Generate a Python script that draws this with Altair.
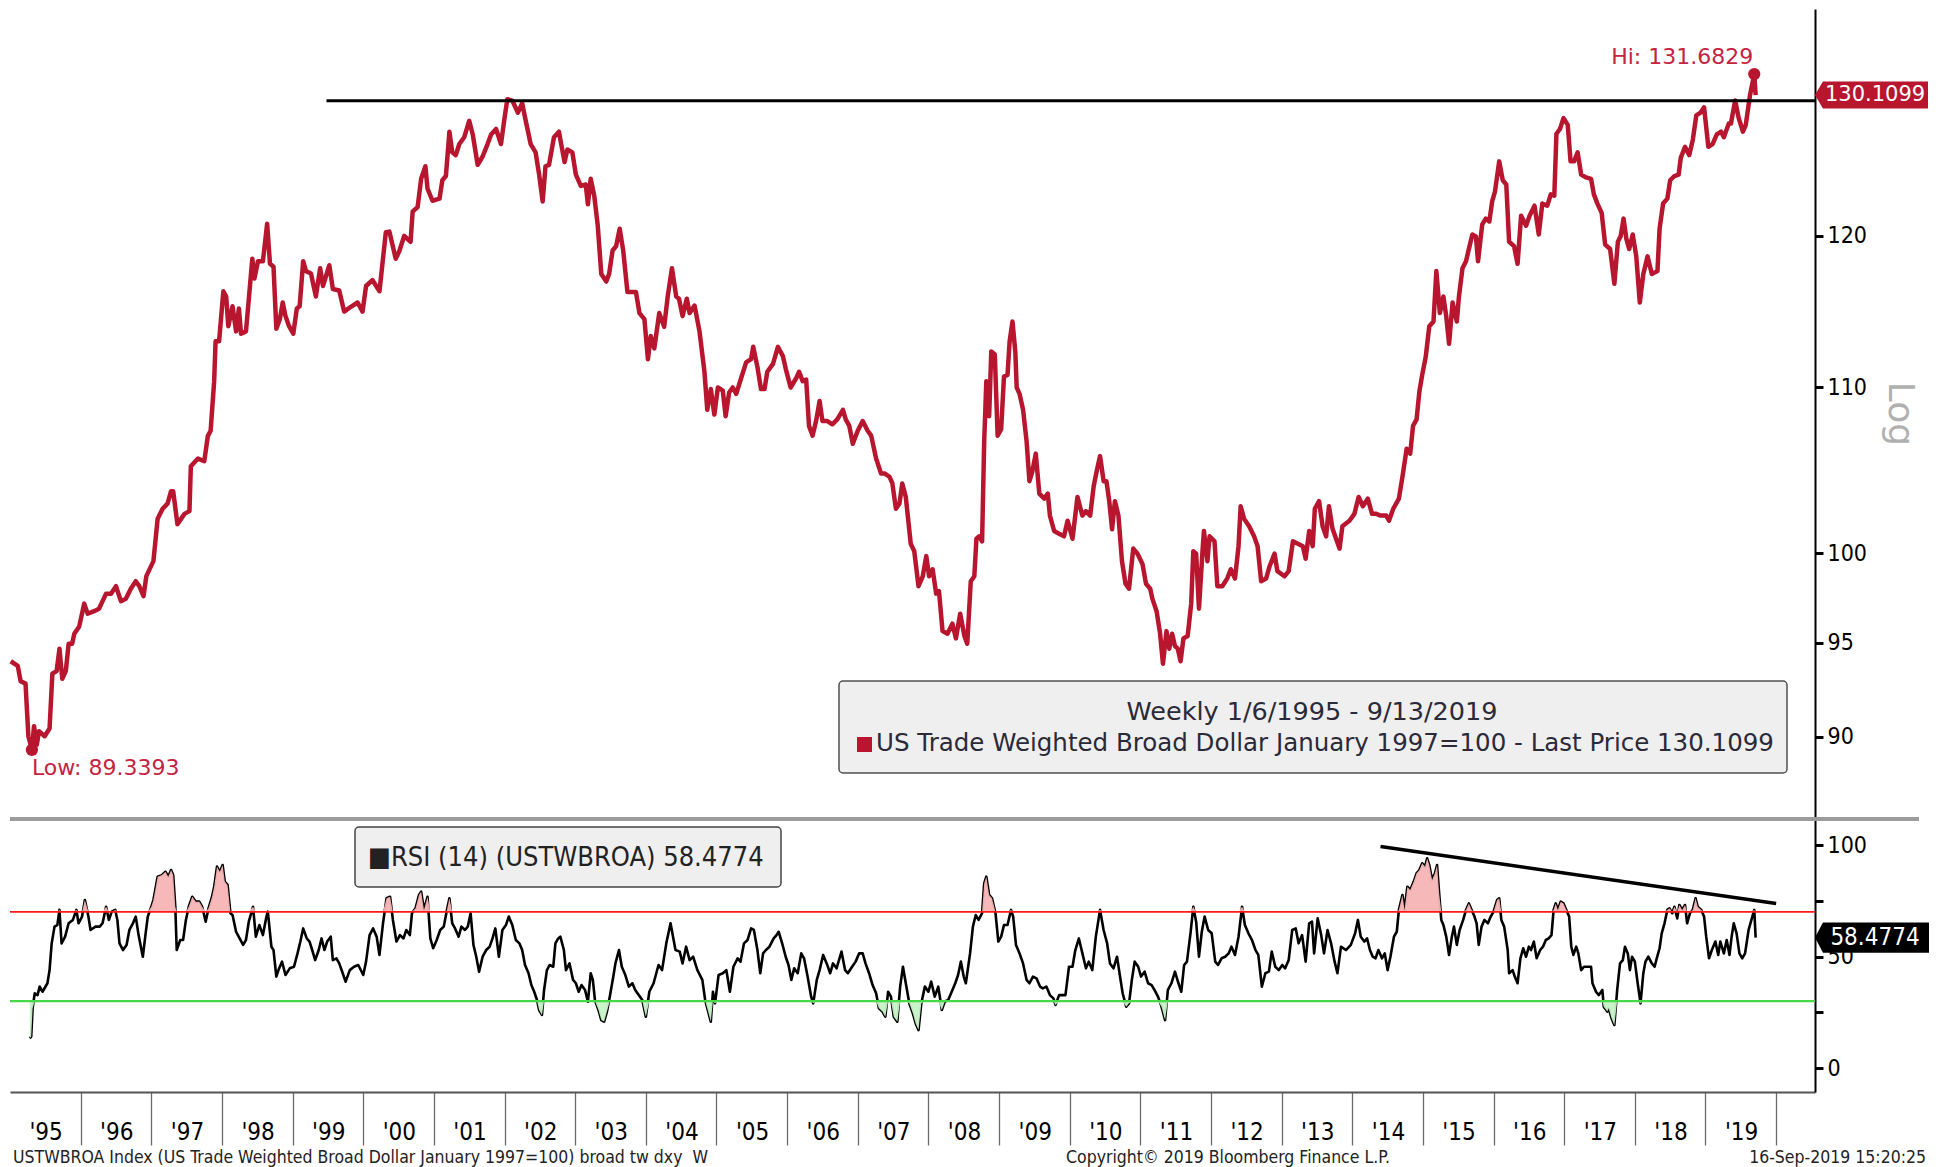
import altair as alt
import pandas as pd

# ---------------- data ----------------
# (decimal year, index level)  US Trade Weighted Broad Dollar, weekly
price_points = [
    (1995.01, 94.0), (1995.11, 93.75), (1995.15, 92.93), (1995.22, 92.8), (1995.26, 90.04),
    (1995.31, 89.34), (1995.34, 90.56), (1995.38, 89.6), (1995.41, 90.3), (1995.49, 90.04),
    (1995.56, 90.44), (1995.60, 93.33), (1995.66, 93.47), (1995.70, 94.68), (1995.74, 93.06),
    (1995.79, 93.47), (1995.83, 94.95), (1995.88, 94.95), (1995.91, 95.5), (1995.98, 95.9),
    (1996.05, 97.16), (1996.10, 96.6), (1996.19, 96.74), (1996.26, 96.88), (1996.36, 97.72),
    (1996.43, 97.72), (1996.50, 98.14), (1996.57, 97.3), (1996.64, 97.44), (1996.71, 98.0),
    (1996.78, 98.42), (1996.83, 98.14), (1996.89, 97.58), (1996.93, 98.71), (1997.03, 99.56),
    (1997.09, 102.02), (1997.16, 102.6), (1997.23, 102.9), (1997.28, 103.64), (1997.31, 103.64),
    (1997.37, 101.7), (1997.47, 102.3), (1997.54, 102.46), (1997.56, 105.14), (1997.66, 105.6),
    (1997.75, 105.44), (1997.80, 106.97), (1997.84, 107.3), (1997.89, 110.4), (1997.91, 112.96),
    (1997.96, 112.96), (1998.02, 116.25), (1998.06, 115.9), (1998.09, 113.94), (1998.15, 115.25),
    (1998.20, 113.6), (1998.24, 115.1), (1998.27, 113.45), (1998.34, 113.6), (1998.39, 116.25),
    (1998.43, 118.44), (1998.46, 117.1), (1998.51, 118.27), (1998.58, 118.27), (1998.64, 120.84),
    (1998.68, 118.1), (1998.73, 117.9), (1998.77, 113.77), (1998.82, 114.4), (1998.86, 115.5),
    (1998.90, 114.6), (1998.95, 113.94), (1999.01, 113.45), (1999.06, 115.1), (1999.10, 115.25),
    (1999.15, 118.27), (1999.19, 117.6), (1999.26, 117.44), (1999.33, 115.9), (1999.39, 117.8),
    (1999.43, 116.6), (1999.52, 118.0), (1999.57, 116.4), (1999.66, 116.3), (1999.73, 114.9),
    (1999.82, 115.2), (1999.92, 115.5), (1999.99, 114.9), (2000.04, 116.6), (2000.13, 117.0),
    (2000.23, 116.25), (2000.32, 120.25), (2000.37, 120.3), (2000.46, 118.44), (2000.51, 118.95),
    (2000.58, 120.0), (2000.67, 119.6), (2000.70, 121.7), (2000.77, 122.0), (2000.82, 124.0),
    (2000.88, 124.9), (2000.91, 123.3), (2000.98, 122.45), (2001.08, 122.6), (2001.12, 123.9),
    (2001.17, 124.2), (2001.22, 127.4), (2001.26, 125.9), (2001.31, 125.7), (2001.36, 126.5),
    (2001.43, 127.0), (2001.50, 128.2), (2001.55, 127.2), (2001.62, 125.0), (2001.69, 125.6),
    (2001.76, 126.5), (2001.81, 127.2), (2001.88, 127.6), (2001.95, 126.5), (2002.00, 128.4),
    (2002.04, 129.8), (2002.11, 129.7), (2002.19, 128.8), (2002.25, 129.5), (2002.30, 128.2),
    (2002.37, 126.5), (2002.44, 125.9), (2002.49, 124.3), (2002.54, 122.4), (2002.58, 124.9),
    (2002.63, 125.0), (2002.70, 127.0), (2002.77, 127.4), (2002.85, 125.2), (2002.89, 126.1),
    (2002.96, 125.9), (2003.01, 124.3), (2003.08, 123.5), (2003.15, 123.6), (2003.18, 122.2),
    (2003.22, 124.0), (2003.27, 122.8), (2003.32, 120.7), (2003.37, 117.4), (2003.44, 116.9),
    (2003.48, 117.4), (2003.53, 119.0), (2003.58, 119.3), (2003.63, 120.5), (2003.68, 119.0),
    (2003.74, 116.2), (2003.81, 116.2), (2003.86, 116.2), (2003.91, 114.8), (2003.98, 114.4),
    (2004.03, 111.8), (2004.07, 113.3), (2004.12, 112.5), (2004.19, 114.8), (2004.26, 113.9),
    (2004.31, 115.9), (2004.37, 117.8), (2004.43, 115.9), (2004.47, 115.75), (2004.52, 114.6),
    (2004.58, 115.75), (2004.62, 114.8), (2004.69, 115.3), (2004.76, 113.6), (2004.83, 111.0),
    (2004.87, 108.6), (2004.92, 109.9), (2004.97, 108.3), (2005.02, 110.0), (2005.09, 109.8),
    (2005.13, 108.2), (2005.18, 109.7), (2005.23, 110.0), (2005.28, 109.6), (2005.35, 110.6),
    (2005.42, 111.6), (2005.49, 111.8), (2005.52, 112.6), (2005.58, 111.3), (2005.63, 109.9),
    (2005.68, 109.9), (2005.72, 111.0), (2005.80, 111.5), (2005.87, 112.6), (2005.94, 112.0),
    (2005.98, 111.2), (2006.05, 110.0), (2006.13, 110.6), (2006.17, 111.0), (2006.22, 110.4),
    (2006.27, 110.5), (2006.31, 107.6), (2006.36, 107.0), (2006.41, 107.9), (2006.46, 109.15),
    (2006.50, 107.9), (2006.57, 107.9), (2006.64, 107.7), (2006.71, 108.0), (2006.79, 108.6),
    (2006.83, 108.0), (2006.88, 107.6), (2006.93, 106.5), (2007.00, 107.3), (2007.07, 107.9),
    (2007.14, 107.3), (2007.19, 107.0), (2007.26, 105.6), (2007.33, 104.7), (2007.38, 104.7),
    (2007.45, 104.5), (2007.49, 104.1), (2007.54, 102.6), (2007.59, 102.9), (2007.63, 104.1),
    (2007.68, 103.3), (2007.75, 100.56), (2007.80, 100.13), (2007.86, 98.14), (2007.92, 98.7),
    (2007.97, 99.85), (2008.01, 98.7), (2008.06, 99.1), (2008.11, 97.72), (2008.15, 97.86),
    (2008.20, 95.64), (2008.27, 95.5), (2008.34, 96.05), (2008.39, 95.24), (2008.45, 96.6),
    (2008.51, 95.37), (2008.55, 94.95), (2008.60, 98.42), (2008.65, 98.7), (2008.68, 100.85),
    (2008.72, 100.99), (2008.76, 100.7), (2008.79, 106.66), (2008.82, 110.4), (2008.86, 108.2),
    (2008.89, 112.3), (2008.94, 112.1), (2008.98, 107.0), (2009.03, 107.4), (2009.07, 110.7),
    (2009.12, 110.8), (2009.15, 112.96), (2009.19, 114.25), (2009.23, 112.3), (2009.25, 110.0),
    (2009.29, 109.6), (2009.34, 108.6), (2009.39, 106.66), (2009.43, 104.24), (2009.47, 104.8),
    (2009.52, 105.9), (2009.57, 103.5), (2009.64, 103.2), (2009.69, 103.5), (2009.72, 102.2),
    (2009.78, 101.3), (2009.85, 101.14), (2009.92, 100.99), (2009.97, 101.9), (2010.04, 100.85),
    (2010.11, 103.3), (2010.18, 102.2), (2010.23, 102.46), (2010.29, 102.2), (2010.34, 103.95),
    (2010.39, 105.0), (2010.43, 105.75), (2010.48, 104.24), (2010.52, 104.24), (2010.56, 103.05),
    (2010.60, 101.4), (2010.64, 103.05), (2010.69, 102.2), (2010.74, 99.56), (2010.79, 98.28),
    (2010.84, 98.0), (2010.90, 100.28), (2010.96, 99.99), (2011.03, 99.4), (2011.08, 98.28),
    (2011.14, 98.0), (2011.17, 97.44), (2011.23, 96.74), (2011.28, 95.5), (2011.32, 93.87),
    (2011.37, 95.64), (2011.41, 94.68), (2011.45, 95.5), (2011.49, 94.82), (2011.53, 94.68),
    (2011.57, 94.0), (2011.61, 95.24), (2011.67, 95.37), (2011.72, 97.16), (2011.75, 100.13),
    (2011.79, 99.99), (2011.83, 96.88), (2011.88, 100.13), (2011.90, 101.3), (2011.95, 99.56),
    (2011.98, 100.99), (2012.05, 100.7), (2012.09, 98.14), (2012.16, 98.14), (2012.23, 98.57),
    (2012.28, 99.1), (2012.34, 98.57), (2012.39, 100.42), (2012.42, 102.75), (2012.47, 102.0),
    (2012.54, 101.58), (2012.61, 100.99), (2012.66, 100.42), (2012.71, 98.42), (2012.78, 98.57),
    (2012.83, 99.27), (2012.90, 99.99), (2012.94, 98.99), (2013.04, 98.7), (2013.10, 98.99),
    (2013.16, 100.7), (2013.23, 100.56), (2013.30, 100.42), (2013.34, 99.7), (2013.39, 101.3),
    (2013.44, 100.42), (2013.47, 102.6), (2013.53, 103.05), (2013.58, 101.58), (2013.63, 100.99),
    (2013.67, 102.75), (2013.72, 101.44), (2013.77, 100.85), (2013.82, 100.28), (2013.86, 101.58),
    (2013.96, 101.9), (2014.03, 102.3), (2014.09, 103.3), (2014.15, 102.75), (2014.22, 103.2),
    (2014.28, 102.3), (2014.34, 102.3), (2014.40, 102.2), (2014.48, 102.2), (2014.52, 101.9),
    (2014.58, 102.6), (2014.66, 103.2), (2014.71, 104.5), (2014.77, 106.2), (2014.82, 105.9),
    (2014.86, 107.6), (2014.91, 108.0), (2014.95, 109.75), (2014.99, 110.8), (2015.04, 111.96),
    (2015.09, 113.94), (2015.15, 114.25), (2015.19, 117.6), (2015.24, 114.8), (2015.29, 115.9),
    (2015.33, 114.6), (2015.37, 112.8), (2015.42, 115.5), (2015.48, 114.25), (2015.51, 115.9),
    (2015.56, 117.8), (2015.61, 118.27), (2015.66, 119.3), (2015.70, 120.1), (2015.75, 119.97),
    (2015.78, 118.27), (2015.84, 120.8), (2015.89, 121.2), (2015.94, 121.0), (2015.98, 122.4),
    (2016.02, 123.1), (2016.08, 125.25), (2016.13, 123.9), (2016.18, 123.6), (2016.22, 119.6),
    (2016.29, 119.3), (2016.34, 118.1), (2016.39, 121.4), (2016.46, 120.7), (2016.51, 121.4),
    (2016.58, 122.1), (2016.64, 120.1), (2016.69, 122.25), (2016.76, 122.1), (2016.81, 122.9),
    (2016.86, 122.8), (2016.89, 127.25), (2016.94, 127.6), (2016.99, 128.4), (2017.05, 127.9),
    (2017.09, 125.25), (2017.14, 125.25), (2017.19, 125.9), (2017.24, 124.3), (2017.31, 124.1),
    (2017.38, 124.0), (2017.42, 122.9), (2017.47, 122.25), (2017.53, 121.6), (2017.58, 119.4),
    (2017.65, 119.1), (2017.71, 116.75), (2017.76, 119.6), (2017.80, 120.0), (2017.84, 121.2),
    (2017.88, 119.8), (2017.92, 119.1), (2017.97, 120.1), (2018.02, 118.6), (2018.07, 115.5),
    (2018.12, 117.4), (2018.18, 118.6), (2018.24, 117.4), (2018.32, 117.6), (2018.35, 120.5),
    (2018.40, 122.25), (2018.46, 122.6), (2018.50, 123.9), (2018.56, 124.2), (2018.62, 124.3),
    (2018.65, 125.5), (2018.71, 126.3), (2018.77, 125.7), (2018.82, 126.8), (2018.87, 128.6),
    (2018.93, 128.8), (2018.98, 129.2), (2019.04, 126.3), (2019.10, 126.5), (2019.16, 127.2),
    (2019.22, 127.4), (2019.26, 127.0), (2019.33, 128.0), (2019.36, 128.0), (2019.42, 129.7),
    (2019.47, 128.4), (2019.53, 127.4), (2019.57, 127.9), (2019.63, 130.1), (2019.69, 131.6829),
    (2019.71, 130.1099),
]

# (decimal year, RSI 14)
rsi_points = [
    (1995.28, 13.3), (1995.30, 14.1), (1995.32, 26.8), (1995.35, 33.5), (1995.39, 32.7),
    (1995.42, 36.5), (1995.46, 34.2), (1995.53, 38.0), (1995.56, 43.9), (1995.59, 55.9),
    (1995.63, 63.4), (1995.67, 64.1), (1995.70, 70.9), (1995.73, 55.9), (1995.78, 58.9),
    (1995.83, 64.9), (1995.89, 66.4), (1995.94, 70.9), (1995.97, 64.9), (1996.02, 67.9),
    (1996.06, 75.3), (1996.11, 67.9), (1996.14, 61.9), (1996.21, 63.4), (1996.27, 63.4),
    (1996.31, 64.9), (1996.36, 72.3), (1996.40, 66.4), (1996.44, 70.1), (1996.49, 70.9),
    (1996.52, 66.4), (1996.55, 55.9), (1996.60, 52.9), (1996.65, 55.2), (1996.69, 61.9),
    (1996.74, 64.9), (1996.78, 67.9), (1996.82, 59.6), (1996.88, 49.9), (1996.92, 60.4),
    (1996.95, 67.9), (1997.00, 72.3), (1997.03, 75.3), (1997.09, 85.8), (1997.15, 86.5),
    (1997.20, 88.0), (1997.24, 85.8), (1997.28, 88.8), (1997.31, 86.5), (1997.34, 72.3),
    (1997.36, 52.9), (1997.41, 57.4), (1997.45, 57.4), (1997.49, 66.4), (1997.53, 72.3),
    (1997.58, 76.8), (1997.63, 74.6), (1997.68, 74.6), (1997.72, 72.3), (1997.77, 65.6),
    (1997.81, 71.6), (1997.86, 76.8), (1997.89, 81.3), (1997.93, 90.3), (1997.97, 88.0),
    (1998.01, 91.0), (1998.04, 83.6), (1998.08, 82.1), (1998.12, 69.4), (1998.15, 68.6),
    (1998.20, 61.1), (1998.25, 58.1), (1998.30, 55.2), (1998.34, 57.4), (1998.38, 65.6),
    (1998.44, 72.3), (1998.48, 58.9), (1998.53, 64.1), (1998.58, 59.6), (1998.63, 67.9),
    (1998.65, 70.1), (1998.70, 54.4), (1998.73, 52.9), (1998.77, 41.0), (1998.80, 43.9),
    (1998.85, 47.7), (1998.90, 41.7), (1998.96, 44.7), (1999.02, 45.4), (1999.07, 51.4),
    (1999.11, 56.7), (1999.15, 62.6), (1999.20, 58.1), (1999.24, 56.7), (1999.27, 53.7),
    (1999.32, 48.4), (1999.37, 52.9), (1999.41, 58.1), (1999.45, 52.9), (1999.49, 56.7),
    (1999.54, 58.9), (1999.57, 48.4), (1999.62, 49.2), (1999.66, 46.9), (1999.71, 42.5),
    (1999.75, 38.7), (1999.81, 43.9), (1999.87, 45.4), (1999.93, 46.2), (2000.00, 41.7),
    (2000.04, 47.7), (2000.09, 59.6), (2000.14, 62.6), (2000.19, 58.9), (2000.23, 50.7),
    (2000.28, 64.9), (2000.33, 76.1), (2000.38, 76.8), (2000.42, 66.4), (2000.47, 56.7),
    (2000.52, 59.6), (2000.57, 58.1), (2000.61, 61.9), (2000.66, 59.6), (2000.69, 69.4),
    (2000.74, 71.6), (2000.79, 77.6), (2000.82, 79.1), (2000.86, 70.9), (2000.91, 76.8),
    (2000.95, 58.1), (2000.99, 53.7), (2001.04, 57.4), (2001.09, 61.9), (2001.14, 63.4),
    (2001.18, 70.1), (2001.22, 76.1), (2001.26, 64.9), (2001.30, 62.6), (2001.35, 58.9),
    (2001.39, 63.4), (2001.44, 61.9), (2001.48, 63.4), (2001.52, 69.4), (2001.56, 55.2),
    (2001.60, 49.9), (2001.64, 43.2), (2001.69, 49.9), (2001.74, 52.9), (2001.79, 54.4),
    (2001.83, 58.1), (2001.87, 62.6), (2001.92, 49.9), (2001.97, 61.9), (2002.02, 64.1),
    (2002.06, 67.9), (2002.11, 64.1), (2002.16, 57.4), (2002.21, 55.9), (2002.25, 52.9),
    (2002.29, 46.2), (2002.34, 42.5), (2002.38, 37.2), (2002.42, 34.2), (2002.46, 30.5),
    (2002.49, 26.0), (2002.53, 23.8), (2002.56, 35.0), (2002.60, 43.9), (2002.64, 46.2),
    (2002.69, 45.4), (2002.72, 55.9), (2002.76, 58.1), (2002.79, 58.9), (2002.84, 52.9),
    (2002.87, 43.9), (2002.92, 46.9), (2002.97, 39.5), (2003.01, 38.0), (2003.05, 34.2),
    (2003.09, 37.2), (2003.14, 35.0), (2003.18, 29.7), (2003.22, 42.5), (2003.25, 39.5),
    (2003.28, 30.5), (2003.33, 26.0), (2003.37, 21.5), (2003.41, 20.8), (2003.45, 25.3),
    (2003.49, 32.0), (2003.54, 41.0), (2003.57, 46.9), (2003.62, 52.9), (2003.66, 45.4),
    (2003.71, 41.7), (2003.76, 36.5), (2003.81, 38.0), (2003.85, 35.0), (2003.90, 32.7),
    (2003.95, 30.5), (2004.00, 23.0), (2004.05, 34.2), (2004.11, 38.0), (2004.18, 46.2),
    (2004.23, 43.9), (2004.29, 55.9), (2004.35, 64.9), (2004.42, 52.9), (2004.48, 52.2),
    (2004.52, 46.9), (2004.57, 54.4), (2004.62, 48.4), (2004.67, 49.9), (2004.73, 43.9),
    (2004.80, 39.5), (2004.84, 30.5), (2004.87, 26.8), (2004.92, 20.8), (2004.95, 34.2),
    (2004.98, 29.0), (2005.03, 41.7), (2005.09, 42.5), (2005.14, 43.9), (2005.19, 34.2),
    (2005.24, 45.4), (2005.30, 49.2), (2005.34, 47.7), (2005.39, 55.9), (2005.44, 57.4),
    (2005.49, 62.6), (2005.53, 61.9), (2005.58, 52.9), (2005.62, 42.5), (2005.66, 51.4),
    (2005.70, 52.9), (2005.75, 54.4), (2005.81, 58.1), (2005.85, 59.6), (2005.88, 61.1),
    (2005.93, 55.9), (2005.98, 49.9), (2006.02, 46.2), (2006.06, 39.5), (2006.10, 44.7),
    (2006.15, 42.5), (2006.20, 51.4), (2006.24, 49.2), (2006.29, 41.0), (2006.34, 32.0),
    (2006.37, 29.0), (2006.42, 39.5), (2006.46, 43.9), (2006.51, 50.7), (2006.56, 46.9),
    (2006.61, 42.5), (2006.65, 46.9), (2006.70, 44.7), (2006.77, 52.2), (2006.82, 43.9),
    (2006.86, 42.5), (2006.92, 45.4), (2006.97, 47.7), (2007.02, 51.4), (2007.07, 51.4),
    (2007.11, 46.9), (2007.16, 42.5), (2007.21, 37.2), (2007.26, 33.5), (2007.30, 26.8),
    (2007.35, 25.3), (2007.39, 23.0), (2007.43, 34.2), (2007.47, 32.0), (2007.51, 23.0),
    (2007.56, 20.8), (2007.60, 36.5), (2007.64, 45.4), (2007.68, 38.0), (2007.73, 29.0),
    (2007.78, 24.5), (2007.82, 20.0), (2007.86, 17.0), (2007.90, 29.0), (2007.95, 36.5),
    (2008.00, 34.2), (2008.04, 38.7), (2008.09, 32.0), (2008.14, 36.5), (2008.19, 26.0),
    (2008.23, 29.7), (2008.28, 30.5), (2008.33, 34.2), (2008.38, 38.0), (2008.42, 41.7),
    (2008.46, 47.7), (2008.50, 41.0), (2008.53, 38.0), (2008.59, 51.4), (2008.63, 63.4),
    (2008.67, 68.6), (2008.71, 66.4), (2008.76, 69.4), (2008.79, 82.8), (2008.82, 85.8),
    (2008.86, 77.6), (2008.90, 76.1), (2008.95, 69.4), (2008.99, 56.7), (2009.03, 58.9),
    (2009.07, 64.1), (2009.12, 64.1), (2009.17, 70.9), (2009.20, 67.9), (2009.24, 55.2),
    (2009.29, 51.4), (2009.34, 46.9), (2009.39, 39.5), (2009.43, 38.0), (2009.48, 41.0),
    (2009.53, 40.2), (2009.58, 36.5), (2009.62, 35.7), (2009.67, 36.5), (2009.72, 32.7),
    (2009.77, 31.2), (2009.80, 28.3), (2009.85, 32.7), (2009.89, 32.7), (2009.94, 32.7),
    (2009.99, 45.4), (2010.04, 45.4), (2010.08, 52.9), (2010.13, 58.1), (2010.18, 51.4),
    (2010.23, 44.7), (2010.27, 47.7), (2010.32, 43.9), (2010.37, 58.9), (2010.43, 70.9),
    (2010.48, 61.9), (2010.53, 55.9), (2010.57, 46.9), (2010.62, 44.7), (2010.67, 49.9),
    (2010.72, 39.5), (2010.75, 33.5), (2010.80, 27.5), (2010.84, 29.0), (2010.88, 39.5),
    (2010.92, 47.7), (2010.97, 45.4), (2011.01, 41.0), (2011.06, 43.2), (2011.11, 38.0),
    (2011.16, 37.2), (2011.20, 35.0), (2011.25, 32.0), (2011.30, 27.5), (2011.35, 21.5),
    (2011.39, 35.0), (2011.44, 38.0), (2011.49, 43.2), (2011.54, 38.0), (2011.58, 34.2),
    (2011.62, 46.2), (2011.66, 47.7), (2011.71, 60.4), (2011.75, 72.3), (2011.79, 65.6),
    (2011.83, 49.9), (2011.87, 61.1), (2011.91, 67.9), (2011.96, 61.9), (2012.01, 60.4),
    (2012.06, 47.7), (2012.10, 46.2), (2012.15, 49.2), (2012.20, 49.9), (2012.25, 51.4),
    (2012.29, 54.4), (2012.34, 50.7), (2012.39, 58.9), (2012.44, 72.3), (2012.48, 64.1),
    (2012.53, 60.4), (2012.58, 57.4), (2012.63, 52.9), (2012.67, 50.7), (2012.72, 36.5),
    (2012.77, 42.5), (2012.82, 43.2), (2012.86, 52.2), (2012.91, 45.4), (2012.96, 43.9),
    (2013.01, 46.2), (2013.05, 44.7), (2013.10, 48.4), (2013.15, 61.9), (2013.20, 62.6),
    (2013.24, 55.9), (2013.29, 59.6), (2013.34, 47.7), (2013.39, 64.9), (2013.43, 65.6),
    (2013.46, 51.4), (2013.51, 67.1), (2013.56, 59.6), (2013.60, 51.4), (2013.65, 61.9),
    (2013.70, 55.9), (2013.75, 47.7), (2013.79, 42.5), (2013.84, 54.4), (2013.91, 52.9),
    (2013.98, 55.2), (2014.04, 60.4), (2014.08, 66.4), (2014.12, 58.9), (2014.17, 56.7),
    (2014.21, 58.1), (2014.25, 52.9), (2014.29, 49.9), (2014.33, 49.2), (2014.37, 52.9),
    (2014.42, 49.2), (2014.46, 51.4), (2014.50, 43.9), (2014.54, 49.9), (2014.59, 58.9),
    (2014.63, 61.1), (2014.66, 70.9), (2014.71, 77.6), (2014.74, 70.9), (2014.78, 81.3),
    (2014.82, 79.8), (2014.87, 83.6), (2014.91, 87.3), (2014.95, 88.8), (2014.99, 91.8),
    (2015.03, 90.3), (2015.06, 94.0), (2015.09, 91.0), (2015.13, 84.3), (2015.17, 87.3),
    (2015.20, 91.0), (2015.23, 78.3), (2015.26, 66.4), (2015.29, 64.1), (2015.33, 58.9),
    (2015.37, 50.7), (2015.41, 58.9), (2015.44, 63.4), (2015.48, 55.2), (2015.52, 61.9),
    (2015.57, 66.4), (2015.61, 70.9), (2015.65, 73.8), (2015.69, 70.9), (2015.73, 67.9),
    (2015.76, 64.9), (2015.79, 55.2), (2015.83, 63.4), (2015.87, 66.4), (2015.92, 64.9),
    (2015.96, 67.9), (2016.00, 70.1), (2016.05, 75.3), (2016.08, 76.1), (2016.11, 66.4),
    (2016.15, 63.4), (2016.20, 52.9), (2016.22, 42.5), (2016.27, 43.9), (2016.30, 41.0),
    (2016.34, 38.0), (2016.38, 49.2), (2016.42, 53.7), (2016.46, 49.9), (2016.50, 54.4),
    (2016.53, 52.9), (2016.57, 56.7), (2016.61, 49.2), (2016.66, 52.9), (2016.70, 54.4),
    (2016.74, 57.4), (2016.78, 58.1), (2016.82, 59.6), (2016.85, 70.9), (2016.88, 73.8),
    (2016.91, 70.9), (2016.95, 74.6), (2016.99, 73.8), (2017.03, 70.9), (2017.07, 67.9),
    (2017.10, 54.4), (2017.13, 50.7), (2017.17, 54.4), (2017.20, 51.4), (2017.24, 43.9),
    (2017.28, 45.4), (2017.33, 45.4), (2017.38, 45.4), (2017.40, 38.0), (2017.45, 34.2),
    (2017.49, 32.7), (2017.54, 35.0), (2017.56, 27.5), (2017.61, 25.3), (2017.63, 26.8),
    (2017.67, 22.3), (2017.71, 19.3), (2017.75, 35.0), (2017.79, 46.9), (2017.83, 48.4),
    (2017.86, 54.4), (2017.90, 51.4), (2017.93, 43.9), (2017.96, 49.9), (2018.00, 47.7),
    (2018.04, 38.0), (2018.08, 29.0), (2018.12, 42.5), (2018.15, 47.7), (2018.19, 49.9),
    (2018.24, 46.9), (2018.28, 45.4), (2018.31, 49.2), (2018.35, 53.7), (2018.38, 60.4),
    (2018.42, 64.9), (2018.46, 70.9), (2018.49, 71.6), (2018.53, 69.4), (2018.56, 72.3),
    (2018.60, 67.1), (2018.63, 73.1), (2018.67, 70.9), (2018.71, 73.1), (2018.74, 64.9),
    (2018.78, 69.4), (2018.82, 70.9), (2018.86, 76.1), (2018.89, 72.3), (2018.94, 70.9),
    (2018.98, 67.9), (2019.01, 58.9), (2019.05, 49.2), (2019.09, 52.9), (2019.14, 56.7),
    (2019.18, 50.7), (2019.21, 56.7), (2019.26, 51.4), (2019.30, 57.4), (2019.34, 50.7),
    (2019.37, 58.9), (2019.40, 64.9), (2019.44, 60.4), (2019.48, 51.4), (2019.52, 49.2),
    (2019.56, 51.4), (2019.61, 61.9), (2019.65, 66.4), (2019.69, 70.9), (2019.71, 58.4774),
]

year_breaks = list(range(1996, 2021))      # tick lines between years
price_ticks = [90, 95, 100, 110, 120]
rsi_ticks = [0, 25, 50, 75, 100]

low_point = (1995.31, 89.3393)
high_point = (2019.69, 131.6829)
last_price = 130.1099
last_rsi = 58.4774
resistance = {"x1": 1999.48, "x2": 2020.55, "y": 129.68}
rsi_trend = {"x1": 2014.40, "y1": 99.3, "x2": 2020.0, "y2": 73.8}
overbought, oversold = 70, 30

# ---------------- styling ----------------
W = 1805
H_TOP = 810
H_BOT = 273
X_DOMAIN = [1995.0, 2020.55]
Y_DOMAIN = [85.86, 136.7]
RSI_DOMAIN = [-10.76, 111.66]
CRIMSON = "#b8152f"
LABEL_RED = "#c42341"
FONT = "DejaVu Sans"
FONT_C = "DejaVu Sans Condensed"
TEXT_DARK = "#2a2a38"

price_df = pd.DataFrame(price_points, columns=["year", "value"])
rsi_df = pd.DataFrame(rsi_points, columns=["year", "rsi"])
one = pd.DataFrame({"k": [0]})

x_scale = alt.Scale(domain=X_DOMAIN, nice=False, zero=False)
y_scale = alt.Scale(type="log", domain=Y_DOMAIN, nice=False)
r_scale = alt.Scale(domain=RSI_DOMAIN, nice=False, zero=False)

price_axis = alt.Axis(
    orient="right", values=price_ticks, title=None, grid=False,
    domainColor="black", domainWidth=2, tickColor="black", tickSize=8, tickWidth=3,
    labelFont=FONT_C, labelFontSize=23, labelColor="black", labelPadding=4,
)
rsi_axis = alt.Axis(
    orient="right", values=rsi_ticks, title=None, grid=False,
    labelExpr="datum.value % 50 == 0 ? datum.label : ''",
    domainColor="black", domainWidth=2, tickColor="black", tickSize=8, tickWidth=3,
    labelFont=FONT_C, labelFontSize=23, labelColor="black", labelPadding=4,
)
x_axis = alt.Axis(
    orient="bottom", values=year_breaks, title=None, grid=False,
    labelExpr="\"'\" + substring(toString(datum.value - 1), 2)",
    tickSize=53, tickWidth=1.3, tickColor="#6a6a6a",
    domainColor="#555555", domainWidth=2,
    labelOffset=-35, labelPadding=-13, labelBaseline="middle",
    labelFont=FONT_C, labelFontSize=24, labelColor="black",
    labelFlush=False, labelOverlap=False, labelBound=False,
)


def XT(f):
    return alt.X(f, scale=x_scale, axis=None)


def YP(f):
    return alt.Y(f, scale=y_scale, axis=price_axis)


def XB(f):
    return alt.X(f, scale=x_scale, axis=x_axis)


def YR(f):
    return alt.Y(f, scale=r_scale, axis=rsi_axis)


# ---------------- top panel ----------------
price_line = alt.Chart(price_df).mark_line(
    color=CRIMSON, strokeWidth=4.5, strokeJoin="round"
).encode(x=XT("year:Q"), y=YP("value:Q"))

res_line = alt.Chart(pd.DataFrame([resistance])).mark_rule(color="black", strokeWidth=3).encode(
    x=XT("x1:Q"), x2="x2:Q", y=YP("y:Q")
)

ext_df = pd.DataFrame({
    "year": [low_point[0], high_point[0]],
    "value": [low_point[1], high_point[1]],
    "label": [f"Low: {low_point[1]:.4f}", f"Hi: {high_point[1]:.4f}"],
})
ext_dots = alt.Chart(ext_df).mark_circle(size=150, color=CRIMSON, opacity=1).encode(
    x=XT("year:Q"), y=YP("value:Q")
)
low_text = alt.Chart(ext_df.iloc[[0]].reset_index(drop=True)).mark_text(
    align="left", baseline="middle", dx=0, dy=18, font=FONT, fontSize=22, color=LABEL_RED
).encode(x=XT("year:Q"), y=YP("value:Q"), text="label:N")
hi_text = alt.Chart(ext_df.iloc[[1]].reset_index(drop=True)).mark_text(
    align="right", baseline="middle", dx=-1, dy=-17, font=FONT, fontSize=22, color=LABEL_RED
).encode(x=XT("year:Q"), y=YP("value:Q"), text="label:N")

last_df = pd.DataFrame({"year": [X_DOMAIN[1]], "value": [last_price], "label": [f"{last_price:.4f}"]})
last_tag = alt.Chart(last_df).mark_point(
    shape="M0,0L0.14,-0.24L2,-0.24L2,0.24L0.14,0.24Z", filled=True, size=12769,
    color=CRIMSON, opacity=1, strokeWidth=0
).encode(x=XT("year:Q"), y=YP("value:Q"))
last_text = alt.Chart(last_df).mark_text(
    align="center", baseline="middle", dx=60, font=FONT, fontSize=21, color="white"
).encode(x=XT("year:Q"), y=YP("value:Q"), text="label:N")

log_df = pd.DataFrame({"t": ["Log"]})
log_text = alt.Chart(log_df).mark_text(
    angle=90, font=FONT, fontSize=36, color="#b0b0b0", baseline="middle", align="center"
).encode(x=alt.value(W + 85), y=alt.value(405), text="t:N")

legend_box = alt.Chart(one).mark_rect(
    fill="#efefef", stroke="#505050", strokeWidth=1.5, cornerRadius=4
).encode(x=alt.value(829), x2=alt.value(1777), y=alt.value(672), y2=alt.value(764))
leg_df = pd.DataFrame({
    "l1": ["Weekly 1/6/1995 - 9/13/2019"],
    "l2": ["US Trade Weighted Broad Dollar January 1997=100 - Last Price 130.1099"],
})
legend_l1 = alt.Chart(leg_df).mark_text(
    align="center", baseline="middle", font=FONT, fontSize=25.5, color=TEXT_DARK
).encode(x=alt.value(1302), y=alt.value(703), text="l1:N")
legend_sq = alt.Chart(one).mark_rect(fill=CRIMSON).encode(
    x=alt.value(847), x2=alt.value(862), y=alt.value(728), y2=alt.value(743)
)
legend_l2 = alt.Chart(leg_df).mark_text(
    align="left", baseline="middle", font=FONT, fontSize=24.5, color=TEXT_DARK
).encode(x=alt.value(866), y=alt.value(735), text="l2:N")

top = alt.layer(
    price_line, res_line, ext_dots, low_text, hi_text, last_tag, last_text, log_text,
    legend_box, legend_l1, legend_sq, legend_l2,
).properties(width=W, height=H_TOP)

# ---------------- bottom panel ----------------
rsi_line = alt.Chart(rsi_df).mark_line(color="black", strokeWidth=2.6, strokeJoin="round").encode(
    x=XB("year:Q"), y=YR("rsi:Q"),
)
ob_fill = alt.Chart(rsi_df).transform_calculate(
    top_v=f"max(datum.rsi, {overbought})", base_v=f"{overbought}"
).mark_area(color="#f6b4b4", opacity=0.95).encode(
    x=XB("year:Q"), y=YR("top_v:Q"), y2="base_v:Q",
)
os_fill = alt.Chart(rsi_df).transform_calculate(
    low_v=f"min(datum.rsi, {oversold})", base_v=f"{oversold}"
).mark_area(color="#c6f2c6", opacity=0.95).encode(
    x=XB("year:Q"), y=YR("low_v:Q"), y2="base_v:Q"
)
ob_rule = alt.Chart(pd.DataFrame({"lvl": [overbought]})).mark_rule(
    color="#ff1a1a", strokeWidth=1.6).encode(y=YR("lvl:Q"))
os_rule = alt.Chart(pd.DataFrame({"lvl": [oversold]})).mark_rule(
    color="#46d846", strokeWidth=2.2).encode(y=YR("lvl:Q"))

trend = alt.Chart(pd.DataFrame([rsi_trend])).mark_rule(color="black", strokeWidth=3.5).encode(
    x=XB("x1:Q"), x2="x2:Q", y=YR("y1:Q"), y2="y2:Q"
)

rsi_box = alt.Chart(one).mark_rect(
    fill="#efefef", stroke="#444444", strokeWidth=1.5, cornerRadius=4
).encode(x=alt.value(345), x2=alt.value(771), y=alt.value(8), y2=alt.value(68))
rsi_leg_df = pd.DataFrame({"t": [f"\u25a0RSI (14) (USTWBROA) {last_rsi:.4f}"]})
rsi_legend = alt.Chart(rsi_leg_df).mark_text(
    align="left", baseline="middle", font=FONT_C, fontSize=27, color="#222222"
).encode(x=alt.value(358), y=alt.value(39), text="t:N")

rsi_last_df = pd.DataFrame({"year": [X_DOMAIN[1]], "rsi": [last_rsi], "label": [f"{last_rsi:.4f}"]})
rsi_tag = alt.Chart(rsi_last_df).mark_point(
    shape="M0,0L0.14,-0.265L2,-0.265L2,0.265L0.14,0.265Z", filled=True, size=12996,
    color="black", opacity=1, strokeWidth=0
).encode(x=XB("year:Q"), y=YR("rsi:Q"))
rsi_tag_text = alt.Chart(rsi_last_df).mark_text(
    align="center", baseline="middle", dx=60, font=FONT_C, fontSize=24, color="white"
).encode(x=XB("year:Q"), y=YR("rsi:Q"), text="label:N")

separator = alt.Chart(one).mark_rule(color="#9c9c9c", strokeWidth=4).encode(
    x=alt.value(0), x2=alt.value(1909), y=alt.value(0)
)

foot_df = pd.DataFrame({
    "left": ["USTWBROA Index (US Trade Weighted Broad Dollar January 1997=100) broad tw dxy\u00a0\u00a0W"],
    "mid": ["Copyright\u00a9 2019 Bloomberg Finance L.P."],
    "right": ["16-Sep-2019 15:20:25"],
})
foot_left = alt.Chart(foot_df).mark_text(
    align="left", baseline="middle", font=FONT_C, fontSize=17.5, color="#222222"
).encode(x=alt.value(3), y=alt.value(339), text="left:N")
foot_mid = alt.Chart(foot_df).mark_text(
    align="center", baseline="middle", font=FONT_C, fontSize=17.5, color="#222222"
).encode(x=alt.value(1218), y=alt.value(339), text="mid:N")
foot_right = alt.Chart(foot_df).mark_text(
    align="right", baseline="middle", font=FONT_C, fontSize=17.5, color="#222222"
).encode(x=alt.value(1916), y=alt.value(339), text="right:N")

bottom = alt.layer(
    rsi_line, ob_fill, os_fill, ob_rule, os_rule, trend, rsi_box, rsi_legend,
    rsi_tag, rsi_tag_text, separator, foot_left, foot_mid, foot_right,
).properties(width=W, height=H_BOT)

chart = alt.vconcat(top, bottom, spacing=0, bounds="flush").properties(
    padding={"left": 0, "top": 1, "right": 0, "bottom": 0},
    background="white",
).configure_view(strokeWidth=0)

chart.save("out.html", embed_options={"renderer": "svg", "actions": False})
